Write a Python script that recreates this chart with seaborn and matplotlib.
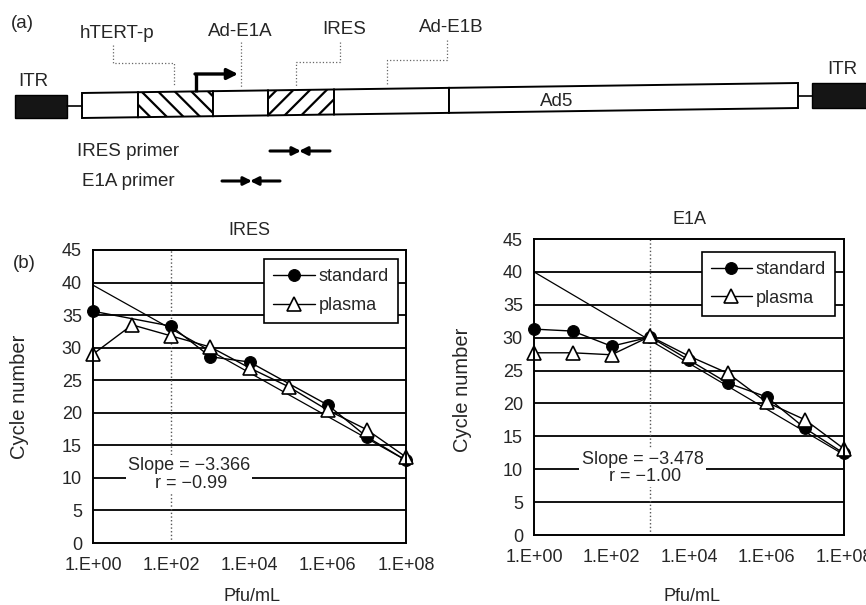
import numpy as np
import pandas as pd
import matplotlib
matplotlib.use("Agg")
import matplotlib.pyplot as plt
from matplotlib.patches import Polygon, Rectangle
import seaborn as sns

# ---- Data: log10(Pfu/mL) vs real-time PCR cycle number ----
decades = [0, 1, 2, 3, 4, 5, 6, 7, 8]
xtick_pos = [0, 2, 4, 6, 8]
xtick_labels = ["1.E+00", "1.E+02", "1.E+04", "1.E+06", "1.E+08"]

ires_std_x = [0, 2, 3, 4, 6, 7, 8]
ires_std_y = [35.6, 33.3, 28.6, 27.8, 21.2, 16.3, 12.7]
ires_plasma_y = [29.0, 33.5, 31.8, 30.1, 26.9, 24.0, 20.4, 17.4, 13.2]
ires_fit_x = [0, 8]
ires_fit_y = [39.6, 12.7]

e1a_std_y = [31.3, 31.0, 28.7, 30.1, 26.6, 23.1, 21.0, 16.2, 12.4]
e1a_plasma_y = [27.7, 27.7, 27.4, 30.2, 27.2, 24.6, 20.2, 17.5, 13.1]
e1a_fit_x = [0, 8]
e1a_fit_y = [40.0, 12.2]

ires_note = "Slope = \u22123.366\n r = \u22120.99"
e1a_note = "Slope = \u22123.478\n r = \u22121.00"

# ---- Style ----
sns.set_style("white")
plt.rcParams["font.family"] = ["Liberation Sans", "DejaVu Sans"]
plt.rcParams["hatch.linewidth"] = 1.6
FS = 13
FS_A = 13.5

W, H = 866, 605
fig = plt.figure(figsize=(W / 100, H / 100), dpi=100)

# ---- (a) construct diagram, drawn in pixel coordinates ----
bg = fig.add_axes([0, 0, 1, 1])
bg.set_xlim(0, W)
bg.set_ylim(H, 0)
bg.axis("off")


def bar_top(x):
    # the scanned bar is a little tilted
    return 93 - (x - 82) * 10 / 716


BAR_H = 25


def segment(x0, x1, hatch=None):
    pts = [(x0, bar_top(x0)), (x1, bar_top(x1)),
           (x1, bar_top(x1) + BAR_H), (x0, bar_top(x0) + BAR_H)]
    bg.add_patch(Polygon(pts, closed=True, facecolor="white",
                         edgecolor="black", lw=1.4, hatch=hatch))


for x0, x1, h in [(82, 138, None), (138, 213, "\\\\"), (213, 268, None),
                  (268, 334, "//"), (334, 449, None), (449, 798, None)]:
    segment(x0, x1, h)

bg.add_patch(Rectangle((15, 95), 52, 23, facecolor="#151515", edgecolor="black"))
bg.plot([67, 82], [106, 106], color="black", lw=1.2)
bg.add_patch(Rectangle((812, 83), 60, 25, facecolor="#151515", edgecolor="black"))
bg.plot([798, 812], [96, 96], color="black", lw=1.2)

# promoter arrow
bg.plot([196, 196], [92, 74], color="black", lw=2.4, solid_capstyle="butt")
bg.annotate("", xy=(238, 74), xytext=(195, 74),
            arrowprops=dict(arrowstyle="-|>", lw=2.4, color="black",
                            mutation_scale=16, shrinkA=0, shrinkB=0))

# dotted leader lines
leaders = [
    ([113, 113, 174, 174], [45, 63, 63, 86]),
    ([241, 241], [42, 88]),
    ([340, 340, 296, 296], [42, 62, 62, 86]),
    ([447, 447, 387, 387], [40, 60, 60, 85]),
]
for lx, ly in leaders:
    bg.plot(lx, ly, color="#666666", lw=0.9, ls=":")

for txt, x, y in [("(a)", 22, 24), ("hTERT-p", 117, 33), ("Ad-E1A", 240, 31),
                  ("IRES", 344, 29), ("Ad-E1B", 451, 27), ("ITR", 33, 82),
                  ("ITR", 842, 69), ("Ad5", 557, 101), ("(b)", 24, 263)]:
    bg.text(x, y, txt, fontsize=FS_A, ha="center", va="center")

bg.text(77, 151, "IRES primer", fontsize=FS_A, ha="left", va="center")
bg.text(82, 181, "E1A primer", fontsize=FS_A, ha="left", va="center")


def primers(xl, xr, y):
    mid = (xl + xr) / 2
    kw = dict(arrowstyle="-|>", lw=2.2, color="black", mutation_scale=12,
              shrinkA=0, shrinkB=0)
    bg.annotate("", xy=(mid + 1, y), xytext=(xl, y), arrowprops=kw)
    bg.annotate("", xy=(mid - 1, y), xytext=(xr, y), arrowprops=kw)


primers(270, 330, 151)
primers(222, 280, 181)


# ---- (b) standard curves ----
def fig_axes(x0, y0, x1, y1):
    return fig.add_axes([x0 / W, 1 - y1 / H, (x1 - x0) / W, (y1 - y0) / H])


def panel(ax, title, std_x, std_y, pl_y, fit_x, fit_y, vline_x,
          note, note_xy, leg_anchor, ylab_xy, xlab_xy):
    ax.set_xlim(0, 8)
    ax.set_ylim(0, 45)
    for yv in range(5, 45, 5):
        ax.axhline(yv, color="black", lw=1.3, zorder=1)
    ax.axvline(vline_x, color="#555555", lw=1.0, ls=":", zorder=1)
    ax.plot(fit_x, fit_y, color="black", lw=0.9, zorder=2)

    std = pd.DataFrame({"x": std_x, "y": std_y})
    pla = pd.DataFrame({"x": decades, "y": pl_y})
    sns.lineplot(data=std, x="x", y="y", ax=ax, color="black", linewidth=1.0,
                 marker="o", markersize=8.5, markeredgecolor="black",
                 label="standard", zorder=3, clip_on=False)
    sns.lineplot(data=pla, x="x", y="y", ax=ax, color="black", linewidth=1.0,
                 marker="^", markersize=10, markerfacecolor="white",
                 markeredgecolor="black", markeredgewidth=1.2,
                 label="plasma", zorder=4, clip_on=False)

    ax.text(note_xy[0], note_xy[1], note, fontsize=FS, ha="center", va="center",
            linespacing=1.05, zorder=2.5,
            bbox=dict(facecolor="white", edgecolor="none", pad=1.5))

    leg = ax.legend(loc="upper right", bbox_to_anchor=leg_anchor, frameon=True,
                    fancybox=False, edgecolor="black", framealpha=1,
                    fontsize=FS, handlelength=2.3, handletextpad=0.2,
                    borderpad=0.5, labelspacing=0.65, borderaxespad=0)
    leg.get_frame().set_linewidth(1.2)
    leg.set_zorder(6)

    ax.set_yticks(range(0, 50, 5))
    ax.set_xticks(xtick_pos)
    ax.set_xticklabels(xtick_labels)
    ax.tick_params(axis="y", length=0, pad=8, labelsize=FS)
    ax.tick_params(axis="x", direction="in", length=3, pad=10, labelsize=FS)
    for s in ax.spines.values():
        s.set_color("black")
        s.set_linewidth(1.4)
        s.set_zorder(5)
    ax.set_title(title, fontsize=FS, pad=11)
    ax.set_ylabel("Cycle number", fontsize=14.5)
    ax.set_xlabel("Pfu/mL", fontsize=FS)
    ax.yaxis.set_label_coords(*ylab_xy)
    ax.xaxis.set_label_coords(*xlab_xy)


ax1 = fig_axes(93, 250, 406, 543)
panel(ax1, "IRES", ires_std_x, ires_std_y, ires_plasma_y, ires_fit_x, ires_fit_y,
      2, ires_note, (2.45, 10.5), (0.974, 0.969), (-0.205, 0.5), (0.508, -0.155))

ax2 = fig_axes(534, 239, 844, 535)
panel(ax2, "E1A", decades, e1a_std_y, e1a_plasma_y, e1a_fit_x, e1a_fit_y,
      3, e1a_note, (2.8, 10.2), (0.971, 0.956), (-0.2, 0.49), (0.51, -0.18))

fig.savefig("out.png", dpi=100)
